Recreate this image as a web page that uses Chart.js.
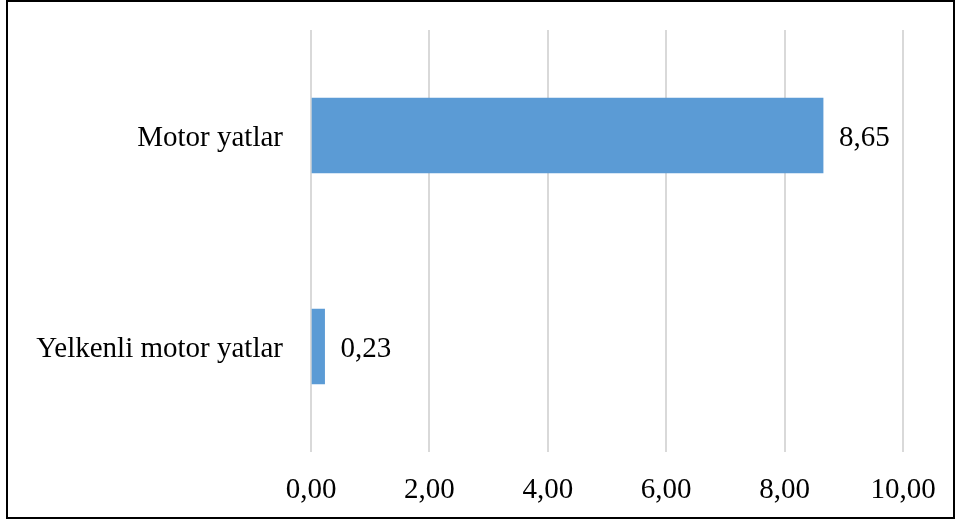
<!DOCTYPE html>
<html>
<head>
<meta charset="utf-8">
<script src="https://cdn.jsdelivr.net/npm/chart.js@4"></script>
<style>
  html, body { margin: 0; padding: 0; background: #ffffff; }
  #wrap { position: absolute; left: 0; top: 0; width: 956px; height: 521px; }
</style>
</head>
<body>
<div id="wrap"><canvas id="chart" width="956" height="521"></canvas></div>
<script>
const categories = ['Motor yatlar', 'Yelkenli motor yatlar'];
const values = [8.65, 0.23];
const tickValues = [0, 2, 4, 6, 8, 10];

const FONT = "'Liberation Serif', 'Times New Roman', serif";
const fmt = v => v.toFixed(2).replace('.', ',');

// Outer frame around the whole figure
const framePlugin = {
  id: 'frame',
  afterDraw(chart) {
    const ctx = chart.ctx;
    ctx.save();
    ctx.strokeStyle = '#000000';
    ctx.lineWidth = 2;
    ctx.strokeRect(7, 1, 947, 517);
    ctx.restore();
  }
};

// Value labels placed just past the end of each bar
const valueLabels = {
  id: 'valueLabels',
  afterDatasetsDraw(chart) {
    const ctx = chart.ctx;
    const meta = chart.getDatasetMeta(0);
    ctx.save();
    ctx.font = '29px ' + FONT;
    ctx.fillStyle = '#000000';
    ctx.textAlign = 'left';
    ctx.textBaseline = 'middle';
    meta.data.forEach((bar, i) => {
      ctx.fillText(fmt(values[i]), bar.x + 16, bar.y + 3);
    });
    ctx.restore();
  }
};

new Chart(document.getElementById('chart'), {
  type: 'bar',
  data: {
    labels: categories,
    datasets: [{
      data: values,
      backgroundColor: '#5B9BD5',
      borderWidth: 0,
      barThickness: 75
    }]
  },
  options: {
    indexAxis: 'y',
    responsive: false,
    animation: false,
    devicePixelRatio: 1,
    layout: { padding: { top: 30, right: 53, left: 0, bottom: 0 } },
    plugins: {
      legend: { display: false },
      tooltip: { enabled: false }
    },
    scales: {
      x: {
        min: 0,
        max: 10,
        afterBuildTicks(scale) {
          scale.ticks = tickValues.map(v => ({ value: v }));
        },
        afterFit(scale) {
          scale.height = 69;
          scale.paddingLeft = 0;
          scale.paddingRight = 0;
        },
        grid: { color: '#d9d9d9', lineWidth: 2, drawTicks: false },
        border: { display: false },
        ticks: {
          padding: 21,
          color: '#000000',
          font: { family: FONT, size: 29 },
          callback: v => fmt(v)
        }
      },
      y: {
        afterFit(scale) {
          scale.width = 311;
          scale.paddingTop = 0;
          scale.paddingBottom = 0;
        },
        grid: { display: false, drawTicks: false },
        border: { display: false },
        ticks: {
          padding: 28,
          labelOffset: 3,
          color: '#000000',
          font: { family: FONT, size: 29 }
        }
      }
    }
  },
  plugins: [valueLabels, framePlugin]
});
</script>
</body>
</html>
